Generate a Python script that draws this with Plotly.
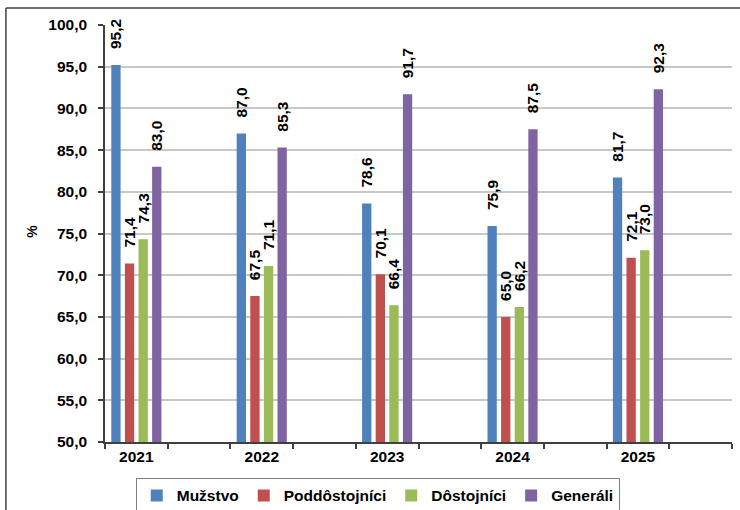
import plotly.graph_objects as go

years = ["2021", "2022", "2023", "2024", "2025"]
series_names = ["Mužstvo", "Poddôstojníci", "Dôstojníci", "Generáli"]
muzstvo = [95.2, 87.0, 78.6, 75.9, 81.7]
poddostojnici = [71.4, 67.5, 70.1, 65.0, 72.1]
dostojnici = [74.3, 71.1, 66.4, 66.2, 73.0]
generali = [83.0, 85.3, 91.7, 87.5, 92.3]
y_ticks = [50, 55, 60, 65, 70, 75, 80, 85, 90, 95, 100]

colors = ["#4F81BD", "#C0504D", "#9BBB59", "#8064A2"]
values = [muzstvo, poddostojnici, dostojnici, generali]

# each year occupies every other slot on the axis (Excel-like spacing)
xpos = [2 * i for i in range(len(years))]

FONT = "Liberation Sans, Arial, sans-serif"

fig = go.Figure()
for name, vals, col in zip(series_names, values, colors):
    fig.add_trace(go.Bar(
        x=xpos, y=vals, name=name,
        marker=dict(color=col, line=dict(width=0)),
        texttemplate="\u00a0\u00a0\u00a0%{y:.1f}",
        textposition="outside",
        textangle=-90,
        constraintext="none",
        cliponaxis=False,
        textfont=dict(family=FONT, size=15.5, color="#000000", weight="bold"),
    ))

fig.update_layout(
    width=740, height=510,
    margin=dict(l=105, r=8, t=25, b=68, autoexpand=False),
    paper_bgcolor="white", plot_bgcolor="white",
    barmode="group", bargap=0.566, bargroupgap=0.316,
    separators=", ",
    font=dict(family=FONT, size=15.5, color="#000000"),
    showlegend=True,
    legend=dict(
        orientation="h", x=0.435, xanchor="center", y=-0.086, yanchor="top",
        bordercolor="#808080", borderwidth=1,
        font=dict(family=FONT, size=15.5, color="#000000", weight="bold"),
        itemwidth=30, tracegroupgap=0,
    ),
)

fig.update_xaxes(
    range=[-0.5, 9.5], automargin=False,
    tickmode="array", tickvals=xpos, ticktext=years,
    ticks="", showgrid=False, zeroline=False,
    showline=True, linecolor="#404040", linewidth=1.5,
    tickfont=dict(family=FONT, size=15.5, color="#000000", weight="bold"),
    minor=dict(tickmode="array", tickvals=[k - 0.5 for k in range(11)],
               ticks="outside", ticklen=5, tickcolor="#404040", tickwidth=1.5,
               showgrid=False),
    fixedrange=True,
)

fig.update_yaxes(
    range=[50, 100], automargin=False,
    tickmode="array", tickvals=y_ticks, tickformat=".1f",
    ticks="outside", ticklen=5, tickcolor="#404040", tickwidth=1.5,
    showline=True, linecolor="#404040", linewidth=1.5,
    showgrid=True, gridcolor="#C8C8C8", gridwidth=1.5,
    zeroline=False, ticklabelstandoff=8,
    tickfont=dict(family=FONT, size=15.5, color="#000000", weight="bold"),
    fixedrange=True,
)

# y-axis title
fig.add_annotation(
    text="%", xref="paper", yref="paper", x=-0.1164, y=0.504,
    xanchor="center", yanchor="middle",
    showarrow=False, textangle=-90,
    font=dict(family=FONT, size=14, color="#000000", weight="bold"),
)

# outer chart frame (only top and left edges are visible in the crop)
fig.add_shape(
    type="line", xref="paper", yref="paper",
    x0=-0.158, x1=1.02, y0=1.0408, y1=1.0408,
    line=dict(color="#404040", width=1.5), layer="above",
)
fig.add_shape(
    type="line", xref="paper", yref="paper",
    x0=-0.158, x1=-0.158, y0=-0.2, y1=1.0408,
    line=dict(color="#404040", width=1.5), layer="above",
)

fig.write_html(
    "out.html",
    config={"displayModeBar": False},
    post_script="document.body.style.margin='0';document.body.style.padding='0';",
)
